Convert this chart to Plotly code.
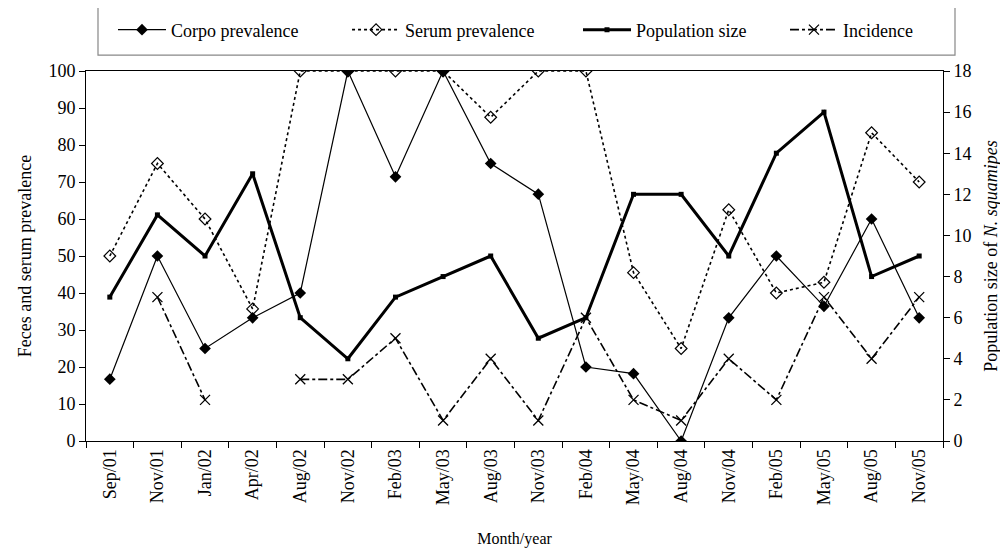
import plotly.graph_objects as go

months = ["Sep/01", "Nov/01", "Jan/02", "Apr/02", "Aug/02", "Nov/02", "Feb/03", "May/03",
          "Aug/03", "Nov/03", "Feb/04", "May/04", "Aug/04", "Nov/04", "Feb/05", "May/05",
          "Aug/05", "Nov/05"]
corpo = [16.7, 50, 25, 33.3, 40, 100, 71.4, 100, 75, 66.7, 20, 18.2, 0, 33.3, 50, 36.4, 60, 33.3]
serum = [50, 75, 60, 35.7, 100, 100, 100, 100, 87.5, 100, 100, 45.5, 25, 62.5, 40, 42.9, 83.3, 70]
population = [7, 11, 9, 13, 6, 4, 7, 8, 9, 5, 6, 12, 12, 9, 14, 16, 8, 9]
incidence = [None, 7, 2, None, 3, 3, 5, 1, 4, 1, 6, 2, 1, 4, 2, 7, 4, 7]

FONT = "Liberation Serif, Times New Roman, serif"

fig = go.Figure()
fig.add_trace(go.Scatter(x=months, y=corpo, name="Corpo prevalence", mode="lines+markers",
                         legend="legend",
                         line=dict(color="black", width=1.2),
                         marker=dict(symbol="diamond", size=9, color="black")))
fig.add_trace(go.Scatter(x=months, y=serum, name="Serum prevalence", mode="lines+markers",
                         legend="legend2",
                         line=dict(color="black", width=1.6, dash="dot"),
                         marker=dict(symbol="diamond-open", size=9, color="black",
                                     line=dict(width=1.2))))
fig.add_trace(go.Scatter(x=months, y=population, name="Population size", mode="lines+markers",
                         yaxis="y2", legend="legend3",
                         line=dict(color="black", width=3),
                         marker=dict(symbol="square", size=5, color="black")))
fig.add_trace(go.Scatter(x=months, y=incidence, name="Incidence", mode="lines+markers",
                         yaxis="y2", connectgaps=False, legend="legend4",
                         line=dict(color="black", width=1.6, dash="dashdot"),
                         marker=dict(symbol="x-thin-open", size=10, color="black",
                                     line=dict(width=1.3, color="black"))))

def leg(x):
    return dict(orientation="h", x=x, xanchor="left", y=1.111, yanchor="middle",
                borderwidth=0, bgcolor="rgba(0,0,0,0)", font=dict(size=18, family=FONT),
                itemwidth=48)

fig.update_layout(
    width=1008, height=549,
    margin=dict(l=78, r=73, t=63, b=116, autoexpand=False),
    plot_bgcolor="white", paper_bgcolor="white",
    font=dict(family=FONT, size=18, color="black"),
    showlegend=True,
    legend=leg(0.0315), legend2=leg(0.3046), legend3=leg(0.5741), legend4=leg(0.8156),
    shapes=[dict(type="rect", xref="paper", yref="paper", x0=0.014, x1=1.014,
                 y0=1.043, y1=1.178, line=dict(color="#888", width=1.2))],
    xaxis=dict(
        type="category", range=[-0.5, 17.5], showline=True, linecolor="black", linewidth=1,
        mirror=True, ticks="outside", tickson="boundaries", ticklen=6, tickcolor="black",
        tickangle=-90, showgrid=False,
        title=dict(text="Month/year", font=dict(size=16, family=FONT), standoff=28),
    ),
    yaxis=dict(
        range=[0, 100], dtick=10, showline=True, linecolor="black", linewidth=1,
        ticks="outside", ticklen=6, tickcolor="black", showgrid=False, zeroline=False,
        title=dict(text="Feces and serum prevalence", font=dict(size=18, family=FONT), standoff=12),
    ),
    yaxis2=dict(
        range=[0, 18], dtick=2, overlaying="y", side="right", showline=True,
        linecolor="black", linewidth=1, ticks="outside", ticklen=6, tickcolor="black",
        showgrid=False, zeroline=False,
        title=dict(text="Population size of <i>N. squamipes</i>", font=dict(size=18, family=FONT),
                   standoff=13),
    ),
)

fig.write_html("out.html")
